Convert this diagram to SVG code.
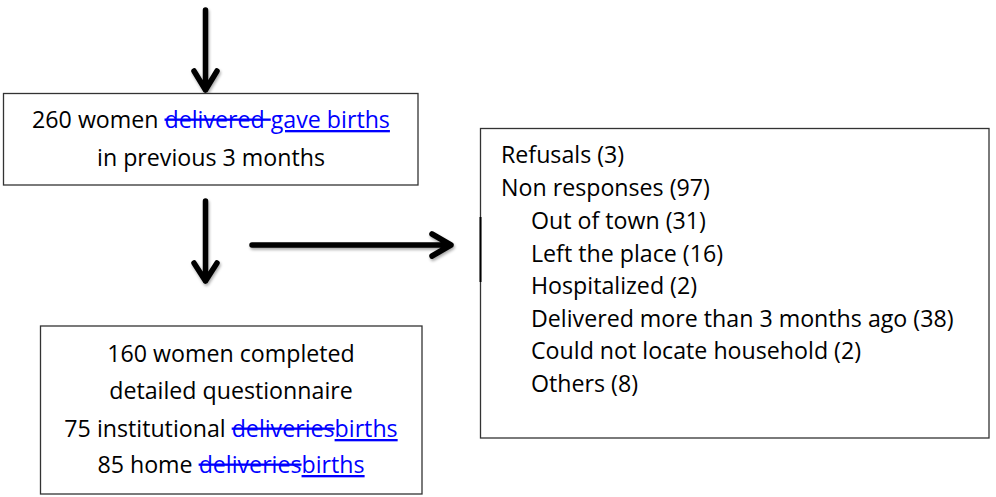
<svg xmlns="http://www.w3.org/2000/svg" width="996" height="497" viewBox="0 0 996 497">
<style>
text{font-family:"Open Sans","Liberation Sans",sans-serif;font-size:23.2px;fill:#000}
.c{text-anchor:middle}
.box{fill:#fff;stroke:#333;stroke-width:1.3}
.del{fill:#0000ff;text-decoration:line-through}
.ins{fill:#0000ff;text-decoration:underline}
.arr{fill:none;stroke:#000;stroke-width:5.5;stroke-linecap:round;stroke-linejoin:round;filter:url(#sh)}
</style>
<defs>
<filter id="sh" x="-50%" y="-50%" width="200%" height="200%">
<feGaussianBlur in="SourceAlpha" stdDeviation="1.5"/>
<feOffset dx="1" dy="2" result="b"/>
<feComponentTransfer><feFuncA type="linear" slope="0.35"/></feComponentTransfer>
<feMerge><feMergeNode/><feMergeNode in="SourceGraphic"/></feMerge>
</filter>
</defs>
<rect width="996" height="497" fill="#fff"/>
<g id="connectors">
<path class="arr" d="M205.5 10 V90 M194 71 L205.5 90 L217 71"/>
<path class="arr" d="M205.5 201 V281 M194 263 L205.5 281 L217 263"/>
<path class="arr" d="M252 245 H451 M432 234 L451 245 L432 256"/>
</g>
<g id="node-total">
<rect class="box" x="3.5" y="93.5" width="414.5" height="91.5"/>
<text class="c" x="211" y="128">260 women <tspan class="del">delivered </tspan><tspan class="ins">gave births</tspan></text>
<text class="c" x="211" y="166">in previous 3 months</text>
</g>
<g id="node-completed">
<rect class="box" x="40.5" y="326" width="381.5" height="168"/>
<text class="c" x="231" y="362">160 women completed</text>
<text class="c" x="231" y="399">detailed questionnaire</text>
<text class="c" x="231" y="437">75 institutional <tspan class="del">deliveries</tspan><tspan class="ins">births</tspan></text>
<text class="c" x="231" y="473">85 home <tspan class="del">deliveries</tspan><tspan class="ins">births</tspan></text>
</g>
<g id="node-excluded">
<rect class="box" x="480.5" y="128.5" width="508.5" height="309.5"/>
<line x1="480.5" y1="217" x2="480.5" y2="282" stroke="#000" stroke-width="2"/>
<text x="501" y="163">Refusals (3)</text>
<text x="501" y="196">Non responses (97)</text>
<text x="531" y="229">Out of town (31)</text>
<text x="531" y="262">Left the place (16)</text>
<text x="531" y="294">Hospitalized (2)</text>
<text x="531" y="327">Delivered more than 3 months ago (38)</text>
<text x="531" y="359">Could not locate household (2)</text>
<text x="531" y="392">Others (8)</text>
</g>
</svg>
